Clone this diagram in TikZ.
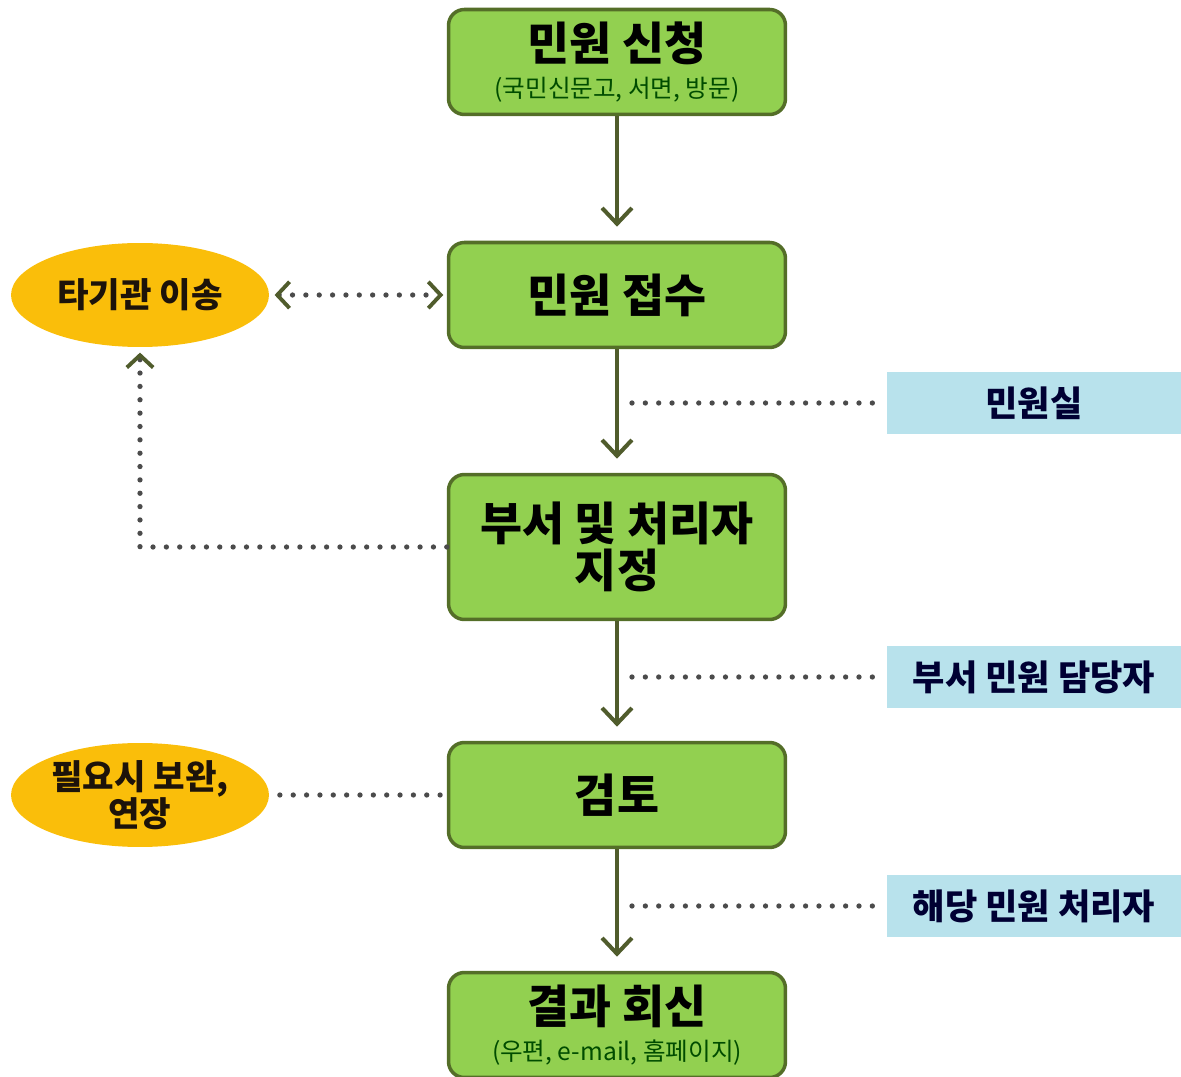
\documentclass[tikz,border=0pt]{standalone}
\usepackage{fontspec}
\setmainfont{Noto Sans CJK KR}
\usetikzlibrary{shapes.geometric, arrows.meta}

\definecolor{boxgreen}{RGB}{146,208,80}
\definecolor{boxline}{RGB}{84,110,40}
\definecolor{arrowline}{RGB}{80,92,44}
\definecolor{ovalfill}{RGB}{250,190,10}
\definecolor{tagblue}{RGB}{184,226,236}
\definecolor{dotgray}{RGB}{75,75,75}

\begin{document}
\begin{tikzpicture}[x=0.02cm, y=-0.02cm,
    stepbox/.style={draw=boxline, line width=2pt, fill=boxgreen, rounded corners=9pt,
        minimum width=6.74cm, minimum height=2.1cm, align=center, inner sep=0pt,
        font=\bfseries\fontsize{26}{30}\selectfont},
    oval/.style={ellipse, fill=ovalfill, minimum width=5.16cm, minimum height=2.08cm,
        align=center, inner sep=0pt, font=\bfseries\fontsize{19.5}{23}\selectfont, text=black!85!brown},
    tag/.style={fill=tagblue, minimum width=5.88cm, minimum height=1.24cm,
        inner sep=0pt, font=\bfseries\fontsize{20}{23}\selectfont, text=black!80!blue},
    flow/.style={draw=arrowline, line width=2.3pt, shorten >=8pt,
        -{Straight Barb[length=9pt, width=17pt]}},
    dotline/.style={draw=dotgray, line width=3pt, line cap=round, dash pattern=on 0pt off 7.6pt},
    dottip/.tip={Straight Barb[length=7pt, width=15pt, line width=2.2pt, color=arrowline]}
]
    \useasboundingbox (0,0) rectangle (1181,1077);

    % main steps
    \node [stepbox] (apply) at (617,62) {민원 신청\\[-9pt]
        {\mdseries\fontsize{14}{16}\selectfont\color{black!70!green}(국민신문고, 서면, 방문)}};
    \node [stepbox] (receive) at (617,295) {민원 접수};
    \node [stepbox, minimum height=2.9cm, font=\bfseries\fontsize{26}{27}\selectfont] (assign) at (617,547)
        {부서 및 처리자\\ 지정};
    \node [stepbox] (review) at (617,795) {검토};
    \node [stepbox] (reply) at (617,1025) {결과 회신\\[-9pt]
        {\mdseries\fontsize{14}{16}\selectfont\color{black!70!green}(우편, e-mail, 홈페이지)}};

    % side notes
    \node [oval] (transfer) at (140,295) {타기관 이송};
    \node [oval, font=\bfseries\fontsize{19.5}{21}\selectfont] (extend) at (140,795) {필요시 보완,\\ 연장};
    \node [tag] (office) at (1034,403) {민원실};
    \node [tag] (dept) at (1034,677) {부서 민원 담당자};
    \node [tag] (handler) at (1034,906) {해당 민원 처리자};

    \draw [flow] (apply) -- (receive);
    \draw [flow] (receive) -- (assign);
    \draw [flow] (assign) -- (review);
    \draw [flow] (review) -- (reply);

    \draw [dotline, dottip-dottip, shorten <=3pt, shorten >=2pt] (transfer.east) -- (receive.west);
    \coordinate (turn) at (140,547);
    \draw [dotline, -dottip, shorten >=3pt] (assign.west) -- (turn) -- (transfer.south);
    \draw [dotline, shorten <=6pt] (extend.east) -- (review.west);

    \coordinate (m1) at (632,403);
    \coordinate (m2) at (632,677);
    \coordinate (m3) at (632,906);
    \draw [dotline, shorten >=6pt] (m1) -- (office.west);
    \draw [dotline, shorten >=6pt] (m2) -- (dept.west);
    \draw [dotline, shorten >=6pt] (m3) -- (handler.west);
\end{tikzpicture}
\end{document}
